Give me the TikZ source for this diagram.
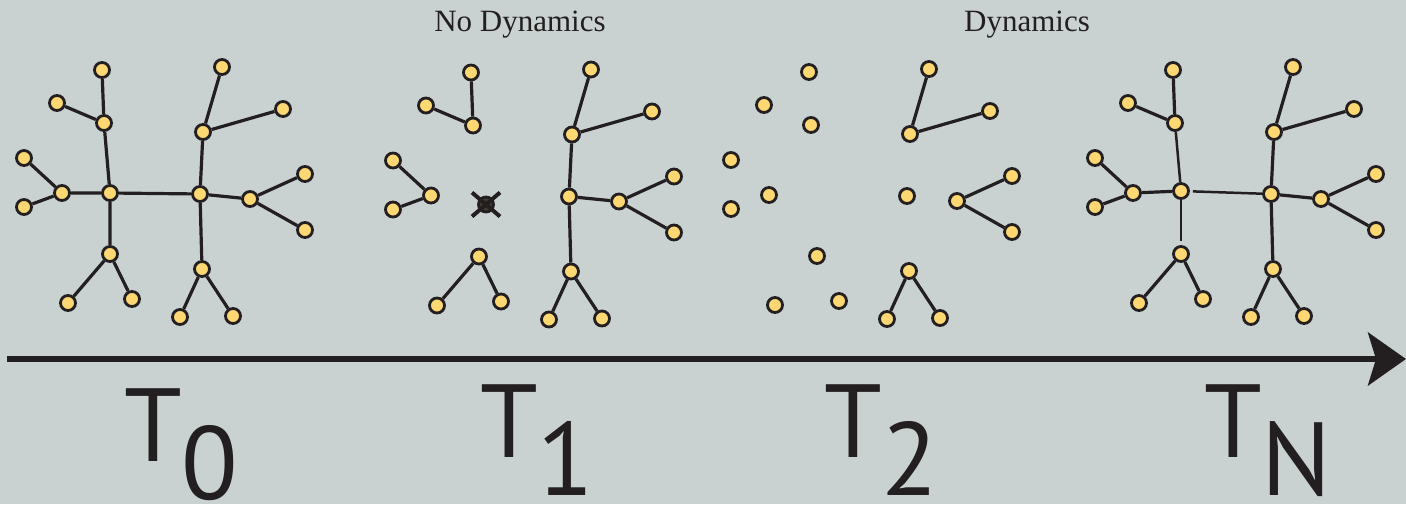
\documentclass[tikz,border=0pt]{standalone}
\usepackage{fontspec}
\usetikzlibrary{arrows.meta, positioning}
\setmainfont{Liberation Serif}
\newfontfamily\tlabfont{PT Sans}
\definecolor{bgry}{RGB}{202,210,209}
\definecolor{nyel}{RGB}{253,216,114}
\definecolor{dblk}{RGB}{ 35, 31, 32}
\tikzset{
  % Yellow network node
  ND/.style={circle,draw=dblk,fill=nyel,line width=2.8pt,
             minimum size=15pt,inner sep=0pt},
  % Removed node, crossed out
  XN/.style={circle,draw=dblk,fill=nyel!15!dblk,line width=2.8pt,
             minimum size=15pt,inner sep=0pt},
  % Links
  ED/.style={line width=3.2pt,color=dblk},
  GE/.style={line width=2.5pt,color=dblk},
  Arr/.style={-{Stealth[length=38pt,width=53pt,inset=8pt]},
              line width=6pt,color=dblk},
  % Labels
  TL/.style={font=\tlabfont\fontsize{104}{104}\selectfont,text=dblk,
             inner sep=0pt,anchor=base west},
  HL/.style={font=\fontsize{31}{31}\selectfont,text=dblk,
             inner sep=0pt,anchor=base},
}
% outer nodes of one snapshot (centre node cl is set per snapshot)
\newcommand{\outernodes}{%
  \node[ND] at (20.0,31.0) (cr)  {};
  \node[ND] at (10.4,38.1) (ul)  {};
  \node[ND] at (10.2,43.4) (ul1) {};
  \node[ND] at ( 5.7,40.1) (ul2) {};
  \node[ND] at ( 6.2,31.1) (ml)  {};
  \node[ND] at ( 2.4,34.6) (ml1) {};
  \node[ND] at ( 2.4,29.7) (ml2) {};
  \node[ND] at (11.0,25.0) (dl)  {};
  \node[ND] at ( 6.8,20.1) (dl1) {};
  \node[ND] at (13.2,20.5) (dl2) {};
  \node[ND] at (20.3,37.2) (ur)  {};
  \node[ND] at (22.2,43.7) (ur1) {};
  \node[ND] at (28.3,39.5) (ur2) {};
  \node[ND] at (25.0,30.5) (mr)  {};
  \node[ND] at (30.5,33.0) (mr1) {};
  \node[ND] at (30.5,27.4) (mr2) {};
  \node[ND] at (20.2,23.5) (dr)  {};
  \node[ND] at (18.0,18.7) (dr1) {};
  \node[ND] at (23.3,18.8) (dr2) {};
}
\newcommand{\rightlinks}{%
  \draw[ED] (ur)--(ur1) (ur)--(ur2);
  \draw[ED] (mr)--(mr1) (mr)--(mr2);
  \draw[ED] (dr)--(dr1) (dr)--(dr2);
}
\newcommand{\leftlinks}{%
  \draw[ED] (ul)--(ul1) (ul)--(ul2);
  \draw[ED] (ml)--(ml1) (ml)--(ml2);
  \draw[ED] (dl)--(dl1) (dl)--(dl2);
}
\begin{document}
\begin{tikzpicture}[x=10pt,y=10pt]
  \fill[bgry] (0,0) rectangle (140.6,50.4);
  \useasboundingbox (0,0) rectangle (140.6,50.4);

  \node[HL] at (52.0,47.2) (hnd) {No Dynamics};
  \node[HL] at (102.7,47.2) (hdy) {Dynamics};

  % T0 : full network
  \begin{scope}[name prefix=s0-]
    \outernodes
    \node[ND] at (11.0,31.1) (cl) {};
    \leftlinks \rightlinks
    \draw[ED] (cr)--(ur) (cr)--(mr) (cr)--(dr);
    \draw[ED] (cl)--(cr) (cl)--(ul) (cl)--(ml) (cl)--(dl);
  \end{scope}

  % T1 : centre node removed
  \begin{scope}[shift={(36.9,-0.25)},name prefix=s1-]
    \outernodes
    \node[XN] at (11.7,30.2) (cl) {};
    \draw[line width=4pt,dblk] (cl.center) ++(-1.4,1.2) -- ++(2.8,-2.4)
                               (cl.center) ++(-1.4,-1.2) -- ++(2.8,2.4);
    \leftlinks \rightlinks
    \draw[ED] (cr)--(ur) (cr)--(mr) (cr)--(dr);
  \end{scope}

  % T2 : network falls apart
  \begin{scope}[shift={(70.7,-0.2)},name prefix=s2-]
    \outernodes
    \rightlinks
  \end{scope}

  % TN : network grown back
  \begin{scope}[shift={(107.1,0)},name prefix=sn-]
    \outernodes
    \node[ND] at (11.0,31.3) (cl) {};
    \leftlinks \rightlinks
    \draw[ED] (cr)--(ur) (cr)--(mr) (cr)--(dr) (cl)--(ml);
    \draw[GE] (cl)--(ul);
    \draw[GE,shorten >=4pt] (cl)--(dl);
    \draw[GE,shorten <=3pt] (cl)--(cr);
  \end{scope}

  % time axis
  \coordinate (ts) at (0.7,14.5);
  \coordinate (te) at (140.6,14.5);
  \draw[Arr] (ts) -- (te);

  \node[TL] at (12.4,4.3) (t0) {T\raisebox{-38pt}{0}};
  \node[TL] at (48.0,4.7) (t1) {T\raisebox{-38pt}{1}};
  \node[TL] at (82.4,4.7) (t2) {T\raisebox{-38pt}{2}};
  \node[TL] at (120.4,4.7) (tn) {T\raisebox{-38pt}{N}};
\end{tikzpicture}
\end{document}
